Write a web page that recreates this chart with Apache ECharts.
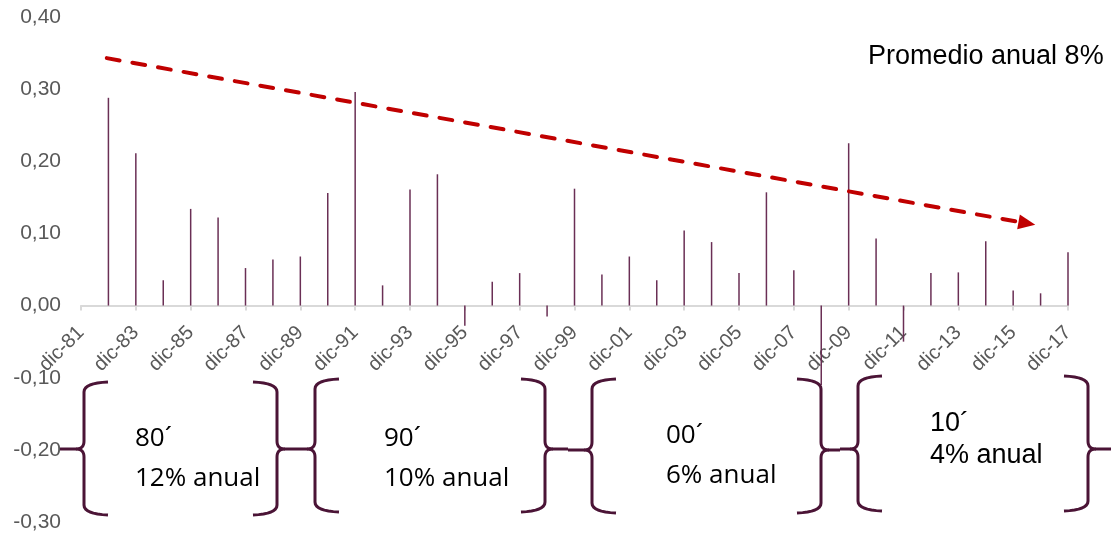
<!DOCTYPE html>
<html>
<head>
<meta charset="utf-8">
<script src="https://cdn.jsdelivr.net/npm/echarts@6/dist/echarts.min.js"></script>
<style>
html,body{margin:0;padding:0;background:#fff;}
#chart{width:1111px;height:537px;}
</style>
</head>
<body>
<div id="chart"></div>
<script>
var categories = ['dic-81','dic-82','dic-83','dic-84','dic-85','dic-86','dic-87','dic-88','dic-89','dic-90',
  'dic-91','dic-92','dic-93','dic-94','dic-95','dic-96','dic-97','dic-98','dic-99','dic-00',
  'dic-01','dic-02','dic-03','dic-04','dic-05','dic-06','dic-07','dic-08','dic-09','dic-10',
  'dic-11','dic-12','dic-13','dic-14','dic-15','dic-16','dic-17'];
var values = [null, 0.288, 0.211, 0.035, 0.134, 0.122, 0.052, 0.064, 0.068, 0.156,
  0.296, 0.028, 0.161, 0.182, -0.028, 0.033, 0.045, -0.015, 0.162, 0.043,
  0.068, 0.035, 0.104, 0.088, 0.045, 0.157, 0.049, -0.11, 0.225, 0.093,
  -0.05, 0.045, 0.046, 0.089, 0.021, 0.017, 0.074];
var yTicks = [-0.3, 0.4, 0.1]; // min, max, interval
var trendStart = [0.94, 0.343];
var trendEnd = [34.5, 0.114];
var trendLabel = 'Promedio anual 8%';
var decades = [
  {t1: '80\u00b4', t2: '12% anual'},
  {t1: '90\u00b4', t2: '10% anual'},
  {t1: '00\u00b4', t2: '6% anual'},
  {t1: '10\u00b4', t2: '4% anual'}
];

var chart = echarts.init(document.getElementById('chart'));

function quad(pts, p0, p1, p2, n) {
  for (var i = 1; i <= n; i++) {
    var t = i / n, a = (1 - t) * (1 - t), b = 2 * (1 - t) * t, c = t * t;
    pts.push([a * p0[0] + b * p1[0] + c * p2[0], a * p0[1] + b * p1[1] + c * p2[1]]);
  }
}
function braceParts(xv, top, mid, bot, dir, arm, tip) {
  // dir = 1 : "{" (arms right, tip left); dir = -1 : "}"
  var r = 9, c = 8, n = 8;
  var up = [[xv + dir * arm, top - 1]];
  quad(up, up[0], [xv, top], [xv, top + r], n);
  up.push([xv, mid - c]);
  quad(up, [xv, mid - c], [xv, mid], [xv - dir * c, mid], n);
  up.push([xv - dir * tip, mid]);
  var lo = [[xv - dir * c, mid]];
  quad(lo, lo[0], [xv, mid], [xv, mid + c], n);
  lo.push([xv, bot - r]);
  quad(lo, [xv, bot - r], [xv, bot], [xv + dir * arm, bot + 1], n);
  return [up, lo];
}

var braceColor = '#4b1436';
var braceSpecs = [
  [84, 383, 449, 514, 1, 24, 24],
  [277, 383, 449, 514, -1, 24, 19],
  [315, 380, 449, 511, 1, 24, 19],
  [545, 380, 449, 511, -1, 24, 23],
  [592, 380, 450, 512, 1, 24, 24],
  [821, 380, 450, 512, -1, 24, 19],
  [858, 377, 449, 510, 1, 24, 18],
  [1088, 377, 449, 510, -1, 24, 23]
];
var graphics = [];
braceSpecs.forEach(function (b) {
  braceParts(b[0], b[1], b[2], b[3], b[4], b[5], b[6]).forEach(function (pts) {
    graphics.push({
      type: 'polyline', silent: true, z: 10,
      shape: {points: pts},
      style: {stroke: braceColor, lineWidth: 3, fill: null, lineJoin: 'round'}
    });
  });
});
var segoe = '26px "Open Sans", "Noto Sans", sans-serif';
var arial = '27px "Liberation Sans", Arial, sans-serif';
var textPos = [
  [135, 439, 479, segoe],
  [384, 439, 479, segoe],
  [666, 436, 476, segoe],
  [930, 424, 456, arial]
];
decades.forEach(function (d, i) {
  var p = textPos[i];
  graphics.push({type: 'text', x: p[0], y: p[1], z: 11,
    style: {text: d.t1, font: p[3], fill: '#000', align: 'left', verticalAlign: 'middle'}});
  graphics.push({type: 'text', x: p[0], y: p[2], z: 11,
    style: {text: d.t2, font: p[3], fill: '#000', align: 'left', verticalAlign: 'middle'}});
});
graphics.push({type: 'text', x: 868, y: 57, z: 11,
  style: {text: trendLabel, font: '27px "Liberation Sans", Arial, sans-serif', fill: '#000', align: 'left', verticalAlign: 'middle'}});

var gridTop = 17, gridBottom = 15, chartH = 537;
var gridH = chartH - gridTop - gridBottom;
var zeroOffset = -gridH * (0 - yTicks[0]) / (yTicks[1] - yTicks[0]);

var option = {
  animation: false,
  backgroundColor: '#fff',
  grid: {left: 81, right: 43, top: gridTop, bottom: gridBottom, containLabel: false, outerBoundsMode: 'none'},
  xAxis: [{
    type: 'category',
    data: categories,
    boundaryGap: false,
    position: 'bottom',
    offset: zeroOffset,
    axisLine: {show: true, onZero: false, lineStyle: {color: '#d9d9d9', width: 2}},
    axisTick: {show: true, interval: 1, length: 5, lineStyle: {color: '#d9d9d9', width: 2}},
    axisLabel: {interval: 1, rotate: 45, margin: 24, color: '#595959', fontSize: 20,
      fontFamily: '"Liberation Sans", Arial, sans-serif'},
    splitLine: {show: false}
  }, {
    type: 'value', min: 0, max: categories.length - 1, show: false
  }],
  yAxis: {
    type: 'value', min: yTicks[0], max: yTicks[1], interval: yTicks[2],
    axisLine: {show: false}, axisTick: {show: false}, splitLine: {show: false},
    axisLabel: {margin: 20, color: '#595959', fontSize: 21,
      fontFamily: '"Liberation Sans", Arial, sans-serif',
      formatter: function (v) { return v.toFixed(2).replace('.', ','); }}
  },
  series: [{
    type: 'bar', xAxisIndex: 0, data: values, barWidth: 1.5,
    itemStyle: {color: '#6a2f55'}, z: 3
  }, {
    type: 'line', xAxisIndex: 1, data: [trendStart, trendEnd],
    symbol: 'none', lineStyle: {opacity: 0}, silent: true, z: 5,
    markLine: {
      silent: true, symbol: ['none', 'triangle'], symbolSize: [15, 17],
      label: {show: false},
      lineStyle: {color: '#c00000', width: 4, type: [13, 13], cap: 'round', opacity: 1},
      data: [[{coord: trendStart}, {coord: trendEnd}]]
    }
  }],
  graphic: graphics
};
chart.setOption(option);
</script>
</body>
</html>
